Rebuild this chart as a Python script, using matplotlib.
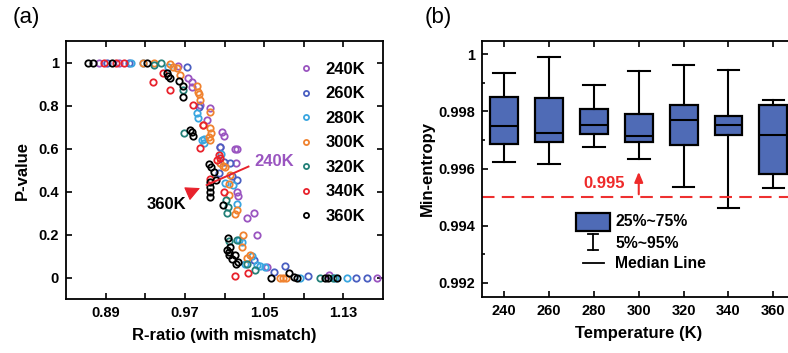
import matplotlib
matplotlib.use("Agg")
import matplotlib.pyplot as plt
from matplotlib.patches import Rectangle
from matplotlib.lines import Line2D
import numpy as np

plt.rcParams['font.family'] = ['Liberation Sans', 'DejaVu Sans']
plt.rcParams['font.weight'] = 'bold'

# ---------------- Panel (a) data: R-ratio vs P-value ----------------
labels_a = ["240K", "260K", "280K", "300K", "320K", "340K", "360K"]
colors_a = ["#9a55c0", "#4a5fc1", "#3aa6e0", "#f08330", "#238078", "#e8222c", "#000000"]

x240 = [0.883, 0.903, 0.9635, 0.9736, 0.977, 0.977, 0.9854, 0.9955, 0.992, 1.0073, 1.0097, 1.0056,
        1.0208, 1.0231, 1.0218, 1.0224, 1.0241, 1.0332, 1.0393, 1.0433, 1.0528, 1.115, 1.164]
y240 = [1.0, 1.0, 0.984, 0.927, 0.911, 0.885, 0.803, 0.787, 0.733, 0.679, 0.658, 0.606,
        0.596, 0.596, 0.531, 0.399, 0.379, 0.275, 0.298, 0.197, 0.05, 0.011, 0.0]

x260 = [0.891, 0.914, 0.972, 0.9847, 1.0056, 1.004, 1.009, 1.0157, 1.018, 1.0224, 1.0393, 1.0595,
        1.0713, 1.0938, 1.143, 1.154]
y260 = [1.0, 1.0, 0.981, 0.792, 0.609, 0.484, 0.539, 0.534, 0.472, 0.453, 0.081, 0.026,
        0.053, 0.006, 0.0, 0.0]

x280 = [0.9153, 0.928, 0.9534, 0.982, 0.9837, 0.987, 0.9894, 0.9894, 1.006, 1.0107, 1.019, 1.0224,
        1.0251, 1.0275, 1.0308, 1.0376, 1.0426, 1.046, 1.051, 1.0864, 1.1218, 1.1336]
y280 = [1.0, 1.0, 0.981, 0.764, 0.741, 0.640, 0.643, 0.624, 0.574, 0.441, 0.430, 0.342,
        0.174, 0.166, 0.065, 0.099, 0.057, 0.053, 0.050, 0.0, 0.0, 0.0]

x300 = [0.928, 0.939, 0.955, 0.9585, 0.962, 0.965, 0.982, 0.9837, 0.9847, 0.9854, 0.995, 0.988,
        0.9955, 0.9962, 0.994, 0.995, 1.0056, 1.0083, 1.0107, 1.0157, 1.015, 1.015, 1.0231,
        1.0207, 1.0285, 1.0275, 1.0325, 1.0359, 1.0656, 1.069, 1.0723]
y300 = [1.0, 1.0, 0.994, 0.981, 0.974, 0.943, 0.891, 0.865, 0.854, 0.826, 0.772, 0.710,
        0.694, 0.674, 0.652, 0.640, 0.531, 0.519, 0.512, 0.477, 0.435, 0.384, 0.314,
        0.295, 0.197, 0.140, 0.089, 0.104, 0.0, 0.0, 0.0]

x320 = [0.939, 0.9457, 0.968, 0.9687, 1.0117, 1.0123, 1.014, 1.0224, 1.015, 1.0325, 1.041,
        1.1067, 1.12]
y320 = [0.989, 1.0, 0.873, 0.671, 0.360, 0.298, 0.329, 0.174, 0.171, 0.065, 0.037,
        0.0, 0.0]

x340 = [0.8887, 0.9005, 0.9086, 0.9382, 0.9483, 0.955, 0.9787, 0.9854, 0.9888, 1.004, 1.0056,
        1.0022, 0.995, 1.0097, 1.0208, 1.0342]
y340 = [1.0, 0.997, 1.0, 0.907, 0.950, 0.870, 0.803, 0.601, 0.710, 0.570, 0.554,
        0.547, 0.457, 0.399, 0.006, 0.022]

x360 = [0.8726, 0.8776, 0.896, 0.9315, 0.9517, 0.9534, 0.955, 0.964, 0.968, 0.968, 0.975, 0.977,
        0.978, 0.994, 0.996, 0.999, 0.995, 0.9955, 0.995, 0.995, 1.0016, 1.0083, 1.0134,
        1.0157, 1.0144, 1.015, 1.0174, 1.0207, 1.0218, 1.0241, 1.0123, 1.0568, 1.0747,
        1.0797, 1.083, 1.1117, 1.114, 1.1235]
y360 = [1.0, 1.0, 1.0, 1.0, 0.950, 0.938, 0.927, 0.915, 0.891, 0.839, 0.686, 0.679,
        0.658, 0.528, 0.512, 0.492, 0.446, 0.422, 0.399, 0.376, 0.453, 0.337, 0.182,
        0.143, 0.120, 0.104, 0.084, 0.104, 0.061, 0.073, 0.127, 0.0, 0.022,
        0.003, 0.0, 0.0, 0.0, 0.0]

series_x = [x240, x260, x280, x300, x320, x340, x360]
series_y = [y240, y260, y280, y300, y320, y340, y360]

xticks_a = [0.89, 0.97, 1.05, 1.13]
yticks_a = [0, 0.2, 0.4, 0.6, 0.8, 1]

# ---------------- Panel (b) data: Min-entropy boxes ----------------
temps = [240, 260, 280, 300, 320, 340, 360]
p5 = [0.99622, 0.99616, 0.99676, 0.99635, 0.99536, 0.99461, 0.99531]
q25 = [0.99687, 0.99694, 0.99721, 0.99693, 0.99683, 0.99719, 0.99580]
med = [0.99750, 0.99724, 0.99754, 0.99713, 0.99769, 0.99754, 0.99719]
q75 = [0.99851, 0.99847, 0.99808, 0.99792, 0.99822, 0.99784, 0.99822]
p95 = [0.99935, 0.99991, 0.99893, 0.99943, 0.99962, 0.99944, 0.99841]
threshold = 0.995
arrow_top = 0.99598
yticks_b = [0.992, 0.994, 0.996, 0.998, 1.0]
yticklabels_b = ["0.992", "0.994", "0.996", "0.998", "1"]

# ---------------- Figure ----------------
fig = plt.figure(figsize=(7.88, 3.53), dpi=100)

W, H = 788, 353
axa = fig.add_axes([66 / W, 1 - 299 / H, (383 - 66) / W, (299 - 41) / H])
axb = fig.add_axes([481.7 / W, 1 - 296.7 / H, (795.8 - 481.7) / W, (296.7 - 40.7) / H])

# Panel (a)
for xs, ys, c, lab in zip(series_x, series_y, colors_a, labels_a):
    axa.plot(xs, ys, linestyle='none', marker='o', markersize=4.6, markerfacecolor='none',
             markeredgecolor=c, markeredgewidth=1.3, label=lab)

axa.set_xlim(0.85, 1.17)
axa.set_ylim(-0.1, 1.1)
xt_all = np.arange(0.89, 1.17, 0.04)
axa.set_xticks(xt_all)
axa.set_xticklabels([("%.2f" % t) if any(abs(t - v) < 1e-6 for v in xticks_a) else "" for t in xt_all])
axa.set_yticks(yticks_a)
axa.set_yticklabels(["0", "0.2", "0.4", "0.6", "0.8", "1"])
axa.tick_params(direction='in', top=True, right=True, length=4, width=1.2, labelsize=10.5, pad=5)
for s in axa.spines.values():
    s.set_linewidth(1.3)
axa.set_xlabel("R-ratio (with mismatch)", fontsize=12, fontweight='bold', labelpad=6)
axa.set_ylabel("P-value", fontsize=12, fontweight='bold', labelpad=6)

leg = axa.legend(loc='upper right', bbox_to_anchor=(0.965, 0.945), frameon=False, fontsize=12,
                 handletextpad=0.8, labelspacing=0.57, markerscale=0.8, handlelength=0.8,
                 borderaxespad=0)
for t in leg.get_texts():
    t.set_fontweight('bold')

# annotations (a)
axa.plot([0.992, 1.0342], [0.430, 0.516], color='#e8222c', lw=1.4)
axa.text(1.040, 0.54, "240K", color='#9a55c0', fontsize=12, fontweight='bold', ha='left', va='center')
axa.annotate("", xy=(0.9853, 0.416), xytext=(0.9725, 0.390),
             arrowprops=dict(arrowstyle='-|>,head_length=0.6,head_width=0.3', mutation_scale=15,
                             color='#e8222c', lw=0.8, shrinkA=0, shrinkB=0))
axa.text(0.9515, 0.3416, "360K", color='black', fontsize=12, fontweight='bold', ha='center', va='center')

# Panel (b)
stats = []
for i in range(len(temps)):
    stats.append(dict(med=med[i], q1=q25[i], q3=q75[i], whislo=p5[i], whishi=p95[i], fliers=[]))
axb.bxp(stats, positions=temps, widths=12.4, capwidths=9.6, showfliers=False, patch_artist=True,
        boxprops=dict(facecolor='#4f6bb6', edgecolor='black', linewidth=1.6),
        medianprops=dict(color='black', linewidth=1.5),
        whiskerprops=dict(color='black', linewidth=1.5),
        capprops=dict(color='black', linewidth=1.5))
axb.set_xlim(230, 370)
axb.set_ylim(0.99151, 1.000476)
axb.set_xticks(temps)
axb.set_xticklabels([str(t) for t in temps])
axb.set_yticks(yticks_b)
axb.set_yticklabels(yticklabels_b)
axb.set_yticks(np.arange(0.993, 1.0, 0.002), minor=True)
axb.tick_params(which='both', direction='in', top=True, right=True, width=1.2, labelsize=10.5, pad=5)
axb.tick_params(which='major', length=4)
axb.tick_params(which='minor', length=2.5)
for s in axb.spines.values():
    s.set_linewidth(1.3)
axb.set_xlabel("Temperature (K)", fontsize=12, fontweight='bold', labelpad=6)
axb.set_ylabel("Min-entropy", fontsize=12, fontweight='bold', labelpad=2)

axb.axhline(threshold, color='#ee3030', lw=1.5, dashes=(6, 3.5))
axb.annotate("", xy=(300, arrow_top), xytext=(300, threshold),
             arrowprops=dict(arrowstyle='-|>,head_length=0.6,head_width=0.25', color='#ee2a2a', lw=1.5))
axb.text(284.5, threshold + 0.00049, "%.3f" % threshold, color='#ee2a2a', fontsize=12,
         fontweight='bold', ha='center', va='center')

# custom legend (b)
tr = axb.transAxes
axb.add_patch(Rectangle((0.300, 0.2566), 0.109, 0.0694, transform=tr, facecolor='#4f6bb6',
                        edgecolor='black', linewidth=1.6, clip_on=False))
axb.add_line(Line2D([0.3543, 0.3543], [0.1824, 0.2449], transform=tr, color='black', lw=1.3))
axb.add_line(Line2D([0.338, 0.370], [0.2449, 0.2449], transform=tr, color='black', lw=1.3))
axb.add_line(Line2D([0.338, 0.370], [0.1824, 0.1824], transform=tr, color='black', lw=1.3))
axb.add_line(Line2D([0.3215, 0.389], [0.1305, 0.1305], transform=tr, color='black', lw=1.3))
for txt, yy in [("25%~75%", 0.292), ("5%~95%", 0.2086), ("Median Line", 0.1305)]:
    axb.text(0.4245, yy, txt, transform=tr, fontsize=11.3, fontweight='bold', ha='left', va='center')

# panel labels
fig.text(13 / W, 1 - 7 / H, "(a)", fontsize=16, fontweight='normal', ha='left', va='top')
fig.text(425 / W, 1 - 7 / H, "(b)", fontsize=16, fontweight='normal', ha='left', va='top')

fig.savefig("out.png", dpi=100)
